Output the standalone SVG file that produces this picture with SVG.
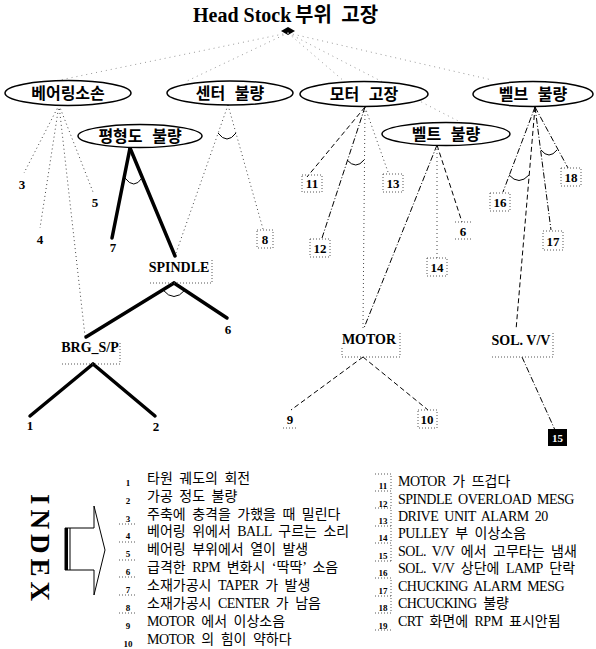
<svg xmlns="http://www.w3.org/2000/svg" width="596" height="649" viewBox="0 0 596 649">
<style>
.ell{fill:#fff;stroke:#000;stroke-width:1.5}
.kt{font-family:"Noto Sans CJK KR",sans-serif;font-weight:bold;font-size:16px;text-anchor:middle;word-spacing:6px}
.bl{font-family:"Liberation Serif",serif;font-weight:bold;font-size:14px;text-anchor:middle}
.num{font-family:"Liberation Serif",serif;font-weight:bold;font-size:13px;text-anchor:middle}
.thick{stroke:#000;stroke-width:3.5;fill:none;stroke-linecap:round}
.dot{stroke:#444;stroke-width:1;stroke-dasharray:1 3;fill:none}
.dash{stroke:#000;stroke-width:1;stroke-dasharray:5 3;fill:none}
.dd{stroke:#000;stroke-width:1;stroke-dasharray:6 2 1 2;fill:none}
.fan{stroke:#999;stroke-width:1;stroke-dasharray:1 4;fill:none}
.arc{stroke:#000;stroke-width:1;fill:none}
.box{stroke:#555;stroke-width:1;stroke-dasharray:1 2;fill:none}
.lt{font-family:"Liberation Serif","Noto Sans CJK KR",serif;font-size:14px;word-spacing:3px}
.e{font-size:14px;letter-spacing:-0.5px}
.ln{font-family:"Liberation Serif",serif;font-weight:bold;font-size:9px;text-anchor:middle}
</style>

<g id="title">
<text x="193" y="22" font-family="Liberation Serif, serif" font-weight="bold" font-size="20">Head Stock</text>
<text x="295" y="22" font-family="Noto Sans CJK KR, sans-serif" font-weight="bold" font-size="20" word-spacing="5">부위 고장</text>
<polygon points="281,31 288,27 295,31 288,35" fill="#000"/>
</g>

<g id="connectors">
<line class="fan" x1="288" y1="33" x2="60" y2="80"/>
<line class="fan" x1="288" y1="33" x2="185" y2="82"/>
<line class="fan" x1="288" y1="33" x2="345" y2="82"/>
<line class="fan" x1="288" y1="33" x2="462" y2="123"/>
<line class="fan" x1="288" y1="33" x2="492" y2="80"/>
<line class="dot" x1="59" y1="105" x2="24" y2="173"/>
<line class="dot" x1="59" y1="105" x2="40" y2="228"/>
<line class="dot" x1="59" y1="105" x2="93" y2="192"/>
<line class="dot" x1="59" y1="105" x2="85" y2="336"/>
<line class="dot" x1="228" y1="105" x2="175" y2="256"/>
<line class="dot" x1="228" y1="105" x2="263" y2="229"/>
<path class="arc" d="M218,133 Q227,145 236,133"/>
<line class="thick" x1="130" y1="148" x2="112" y2="238"/>
<line class="thick" x1="130" y1="148" x2="175" y2="256"/>
<path class="arc" d="M125,178 Q134,190 142,178"/>
<line class="thick" x1="174" y1="283" x2="86" y2="337"/>
<line class="thick" x1="174" y1="283" x2="227" y2="318"/>
<path class="arc" d="M163,290 Q174,303 185,290"/>
<line class="thick" x1="93" y1="364" x2="30" y2="416"/>
<line class="thick" x1="93" y1="364" x2="155" y2="416"/>
<line class="dash" x1="365" y1="107" x2="307" y2="177"/>
<line class="dd" x1="365" y1="107" x2="322" y2="238"/>
<line class="dot" x1="365" y1="107" x2="388" y2="172"/>
<line class="dot" x1="365" y1="107" x2="363" y2="328"/>
<path class="arc" d="M347,160 Q356,170 364,160"/>
<line class="dd" x1="437" y1="145" x2="364" y2="328"/>
<line class="dot" x1="437" y1="145" x2="437" y2="258"/>
<line class="dash" x1="437" y1="145" x2="462" y2="222"/>
<line class="dash" x1="363" y1="357" x2="291" y2="410"/>
<line class="dash" x1="363" y1="357" x2="428" y2="410"/>
<line class="dd" x1="535" y1="107" x2="503" y2="192"/>
<line class="dash" x1="535" y1="107" x2="516" y2="330"/>
<line class="dd" x1="535" y1="107" x2="551" y2="230"/>
<line class="dd" x1="535" y1="107" x2="568" y2="168"/>
<path class="arc" d="M509,175 Q519,186 529,175"/>
<path class="arc" d="M541,150 Q549,160 557,150"/>
<line class="dd" x1="522" y1="357" x2="555" y2="430"/>
</g>

<g id="n-bearing"><ellipse class="ell" cx="68" cy="93" rx="63" ry="12.5"/><text class="kt" x="68" y="99">베어링소손</text></g>
<g id="n-center"><ellipse class="ell" cx="230" cy="93" rx="63" ry="12"/><text class="kt" x="230" y="99">센터 불량</text></g>
<g id="n-balance"><ellipse class="ell" cx="140" cy="136" rx="62" ry="11.5"/><text class="kt" x="140" y="142">평형도 불량</text></g>
<g id="n-motorfault"><ellipse class="ell" cx="364" cy="94" rx="64" ry="12.5"/><text class="kt" x="364" y="100">모터 고장</text></g>
<g id="n-belt"><ellipse class="ell" cx="446" cy="134" rx="64" ry="11.5"/><text class="kt" x="446" y="140">벨트 불량</text></g>
<g id="n-valve"><ellipse class="ell" cx="533" cy="94" rx="60" ry="12.5"/><text class="kt" x="533" y="100">벨브 불량</text></g>

<g id="n-spindle"><text class="bl" x="179" y="272">SPINDLE</text><path class="box" d="M150,283 H212 V260"/></g>
<g id="n-brg"><text class="bl" x="90" y="352">BRG_S/P</text><path class="box" d="M62,364 H120 V342"/></g>
<g id="n-motor"><text class="bl" x="369" y="344">MOTOR</text><path class="box" d="M342,348 V357 H400 V331"/></g>
<g id="n-sol"><text class="bl" x="521" y="345">SOL. V/V</text><path class="box" d="M492,357 H553 V333"/></g>

<g id="n-1"><text class="num" x="30" y="430">1</text></g>
<g id="n-2"><text class="num" x="156" y="431">2</text></g>
<g id="n-3"><text class="num" x="22" y="189">3</text></g>
<g id="n-4"><text class="num" x="40" y="244">4</text></g>
<g id="n-5"><text class="num" x="95" y="207">5</text></g>
<g id="n-6a"><text class="num" x="228" y="334">6</text></g>
<g id="n-7"><text class="num" x="113" y="252">7</text></g>
<g id="n-8"><text class="num" x="265" y="244">8</text><rect class="box" x="257" y="230" width="16" height="18"/></g>
<g id="n-9"><text class="num" x="290" y="424">9</text><path class="box" d="M283,428 H297"/></g>
<g id="n-10"><text class="num" x="427" y="424">10</text><rect class="box" x="418" y="410" width="19" height="18"/></g>
<g id="n-11"><text class="num" x="312" y="188">11</text><rect class="box" x="302" y="175" width="20" height="17"/></g>
<g id="n-12"><text class="num" x="320" y="253">12</text><rect class="box" x="310" y="239" width="20" height="18"/></g>
<g id="n-13"><text class="num" x="393" y="188">13</text><rect class="box" x="383" y="174" width="20" height="18"/></g>
<g id="n-14"><text class="num" x="437" y="272">14</text><rect class="box" x="427" y="258" width="20" height="18"/></g>
<g id="n-6b"><text class="num" x="463" y="236">6</text><path class="box" d="M455,222 H472 M455,239 H473"/></g>
<g id="n-16"><text class="num" x="500" y="207">16</text><rect class="box" x="490" y="193" width="20" height="18"/></g>
<g id="n-17"><text class="num" x="553" y="246">17</text><rect class="box" x="543" y="231" width="20" height="19"/></g>
<g id="n-18"><text class="num" x="571" y="182">18</text><rect class="box" x="561" y="168" width="20" height="18"/></g>
<g id="n-15"><rect x="548" y="429" width="19" height="17" fill="#000"/><text x="557.5" y="442" font-family="Liberation Serif, serif" font-weight="bold" font-size="11" fill="#fff" text-anchor="middle">15</text></g>

<g id="index">
<text transform="translate(31,550) rotate(90)" font-family="Liberation Serif, serif" font-weight="bold" font-size="27" text-anchor="middle" letter-spacing="5">INDEX</text>
<path d="M65,528 H94 V506 L105,550 L94,595 V570 H65 Z" fill="#fff" stroke="#000" stroke-width="1"/>
<line x1="66.5" y1="528" x2="66.5" y2="570" stroke="#000" stroke-width="3"/>
<line x1="70" y1="528" x2="70" y2="570" stroke="#000" stroke-width="1"/>
</g>

<g id="legend-left">
<path class="box" d="M119,524 H136 M119,542 H136 M119,560 H136 M119,577 H136 M119,595 H136 M119,613 H136"/>
<text class="ln" x="128" y="486">1</text><text class="lt" x="147" y="483">타원 궤도의 회전</text>
<text class="ln" x="128" y="504">2</text><text class="lt" x="147" y="501">가공 정도 불량</text>
<text class="ln" x="128" y="522">3</text><text class="lt" x="147" y="519">주축에 충격을 가했을 때 밀린다</text>
<text class="ln" x="128" y="539">4</text><text class="lt" x="147" y="536">베어링 위에서 <tspan class="e">BALL</tspan> 구르는 소리</text>
<text class="ln" x="128" y="557">5</text><text class="lt" x="147" y="554">베어링 부위에서 열이 발생</text>
<text class="ln" x="128" y="575">6</text><text class="lt" x="147" y="572">급격한 <tspan class="e">RPM</tspan> 변화시 ‘딱딱’ 소음</text>
<text class="ln" x="128" y="593">7</text><text class="lt" x="147" y="590">소재가공시 <tspan class="e">TAPER</tspan> 가 발생</text>
<text class="ln" x="128" y="611">8</text><text class="lt" x="147" y="608">소재가공시 <tspan class="e">CENTER</tspan> 가 남음</text>
<text class="ln" x="128" y="629">9</text><text class="lt" x="147" y="626"><tspan class="e">MOTOR</tspan> 에서 이상소음</text>
<text class="ln" x="128" y="647">10</text><text class="lt" x="147" y="644"><tspan class="e">MOTOR</tspan> 의 힘이 약하다</text>
</g>

<g id="legend-right">
<path class="box" d="M375,474 H391 V491 M375,491 H391 V508 M375,508 H391 V526 M375,526 H391 V543 M375,543 H391 V561 M375,561 H391 M375,578 H391 V596 M375,596 H391 V613 M375,613 H391 M375,630 H391"/>
<text class="ln" x="383" y="489">11</text><text class="lt" x="398" y="486"><tspan class="e">MOTOR</tspan> 가 뜨겁다</text>
<text class="ln" x="383" y="507">12</text><text class="lt" x="398" y="504"><tspan class="e">SPINDLE OVERLOAD MESG</tspan></text>
<text class="ln" x="383" y="524">13</text><text class="lt" x="398" y="521"><tspan class="e">DRIVE UNIT ALARM 20</tspan></text>
<text class="ln" x="383" y="541">14</text><text class="lt" x="398" y="538"><tspan class="e">PULLEY</tspan> 부 이상소음</text>
<text class="ln" x="383" y="559">15</text><text class="lt" x="398" y="556"><tspan class="e">SOL. V/V</tspan> 에서 고무타는 냄새</text>
<text class="ln" x="383" y="576">16</text><text class="lt" x="398" y="573"><tspan class="e">SOL. V/V</tspan> 상단에 <tspan class="e">LAMP</tspan> 단락</text>
<text class="ln" x="383" y="594">17</text><text class="lt" x="398" y="591"><tspan class="e">CHUCKING ALARM MESG</tspan></text>
<text class="ln" x="383" y="611">18</text><text class="lt" x="398" y="608"><tspan class="e">CHCUCKING</tspan> 불량</text>
<text class="ln" x="383" y="629">19</text><text class="lt" x="398" y="626"><tspan class="e">CRT</tspan> 화면에 <tspan class="e">RPM</tspan> 표시안됨</text>
</g>
</svg>
